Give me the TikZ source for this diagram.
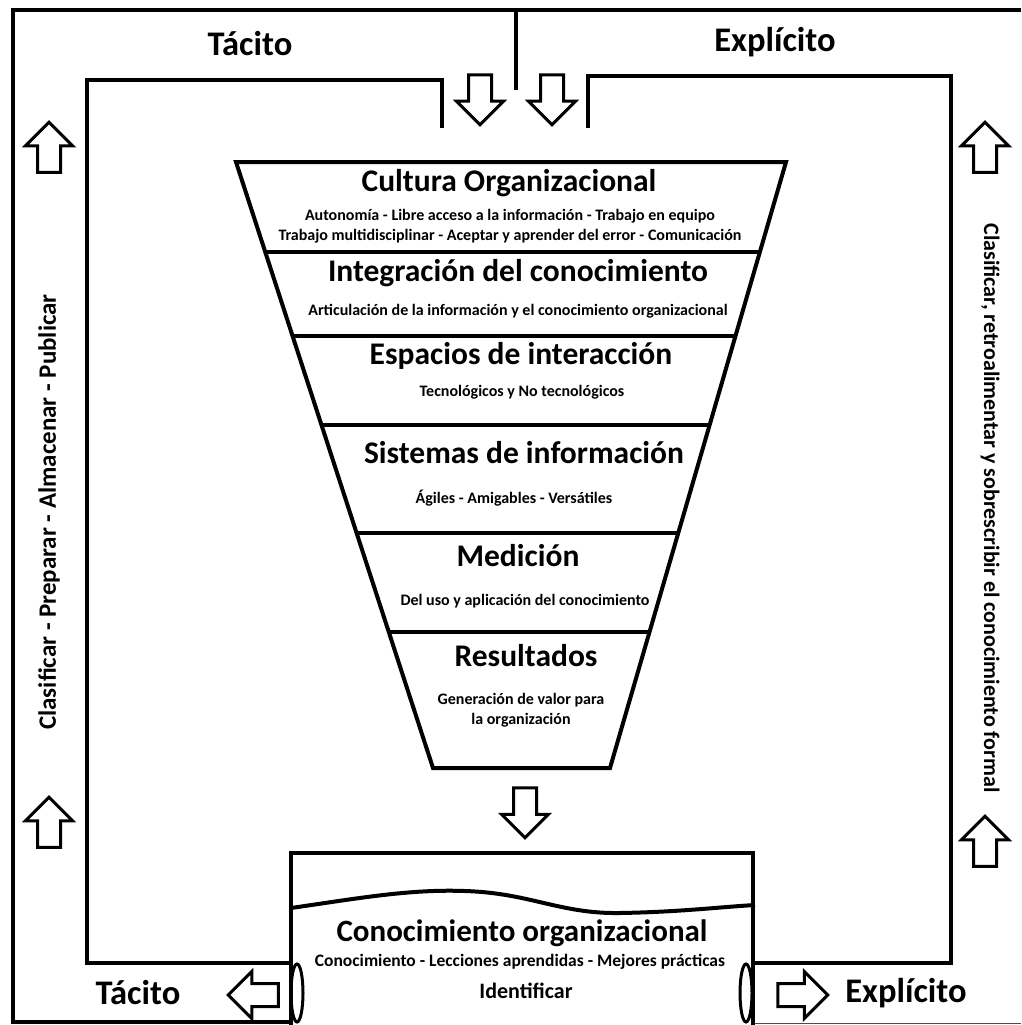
\documentclass[tikz,border=0pt]{standalone}
\usepackage{fontspec}
\setmainfont{Carlito}
\usetikzlibrary{shapes.arrows}
\begin{document}
\begin{tikzpicture}[x=1pt,y=-1pt,line join=miter,
  frame/.style={line width=4pt},
  barrow/.style={single arrow,draw,line width=3pt,minimum height=50pt,
    single arrow head extend=12pt,single arrow tip angle=90,inner xsep=0pt,inner ysep=10pt,fill=white},
  big/.style={font=\bfseries\fontsize{34.5}{38}\selectfont,inner sep=0pt},
  title/.style={font=\bfseries\fontsize{31.5}{36}\selectfont,inner sep=0pt},
  sub/.style={font=\bfseries\fontsize{16}{20}\selectfont,align=center,inner sep=0pt}]
\useasboundingbox (0,0) rectangle (1021,1025);
% outer frame
\draw[frame] (1021,10) -- (13,10) -- (13,1022) -- (291,1022);
\draw[line width=1.5pt,black!70] (753,1023.5) -- (1021,1023.5);
\draw[frame] (516,10) -- (516,90);
% inner frames
\draw[frame] (291,963) -- (87,963) -- (87,80) -- (442,80) -- (442,128);
\draw[frame] (588,128) -- (588,76) -- (951,76) -- (951,963) -- (753,963);
% arrows top
\node[barrow,rotate=-90] (d1) at (480,94) {};
\node[barrow,rotate=-90] (d2) at (552,94) {};
% side arrows
\node[barrow,rotate=90] (lu1) at (49,153) {};
\node[barrow,rotate=90] (lu2) at (49,828) {};
\node[barrow,rotate=90] (ru1) at (985,153) {};
\node[barrow,rotate=90] (ru2) at (985,847) {};
% labels
\node[big] (tt) at (250,44) {Tácito};
\node[big] (et) at (775,42) {Explícito};
\node[font=\bfseries\fontsize{25}{28}\selectfont,inner sep=0pt,rotate=90] (lt) at (49,512) {Clasificar - Preparar - Almacenar - Publicar};
\node[font=\bfseries\fontsize{22}{26}\selectfont,inner sep=0pt,rotate=-90] (rt) at (990,508) {Clasificar, retroalimentar y sobrescribir el conocimiento formal};
% funnel
\draw[frame] (236,162) -- (786,162) -- (610,768) -- (433,768) -- cycle;
\draw[frame] (265.3,252) -- (759.9,252);
\draw[frame] (292.6,336) -- (735.5,336);
\draw[frame] (321.5,425) -- (709.6,425);
\draw[frame] (356.6,533) -- (678.3,533);
\draw[frame] (388.8,632) -- (649.5,632);
\node[title] (c1) at (509,183) {Cultura Organizacional};
\node[sub] (s1) at (510,226) {Autonomía - Libre acceso a la información - Trabajo en equipo\\Trabajo multidisciplinar - Aceptar y aprender del error - Comunicación};
\node[title] (c2) at (518,273) {Integración del conocimiento};
\node[sub] (s2) at (518,311) {Articulación de la información y el conocimiento organizacional};
\node[title] (c3) at (521,356) {Espacios de interacción};
\node[sub] (s3) at (522,392) {Tecnológicos y No tecnológicos};
\node[title] (c4) at (524,453) {Sistemas de información};
\node[sub] (s4) at (514,498) {Ágiles - Amigables - Versátiles};
\node[title] (c5) at (518,556) {Medición};
\node[sub] (s5) at (525,601) {Del uso y aplicación del conocimiento};
\node[title] (c6) at (526,656) {Resultados};
\node[sub] (s6) at (521,710) {Generación de valor para\\la organización};
\node[barrow,rotate=-90] (d3) at (525,807) {};
% bottom box
\draw[frame] (291,1025) -- (291,853) -- (753,853) -- (753,1025);
\draw[frame] (291,908) .. controls (360,898) and (410,889) .. (465,891)
  .. controls (530,893) and (560,914) .. (620,913)
  .. controls (680,912) and (720,907) .. (755,905);
\node[font=\bfseries\fontsize{31}{36}\selectfont,inner sep=0pt] (ko) at (522,933) {Conocimiento organizacional};
\node[font=\bfseries\fontsize{17.5}{20}\selectfont,inner sep=0pt] (ks) at (520,962) {Conocimiento - Lecciones aprendidas - Mejores prácticas};
\node[font=\bfseries\fontsize{22}{26}\selectfont,inner sep=0pt] (id) at (526,991) {Identificar};
\draw[line width=3pt] (297,993) ellipse (6 and 29);
\draw[line width=3pt] (746,993) ellipse (6 and 29);
\node[barrow,rotate=180] (la) at (259,995) {};
\node[barrow] (ra) at (797,995) {};
\node[big] (tb) at (138,993) {Tácito};
\node[big] (eb) at (906,993) {Explícito};
\end{tikzpicture}
\end{document}
